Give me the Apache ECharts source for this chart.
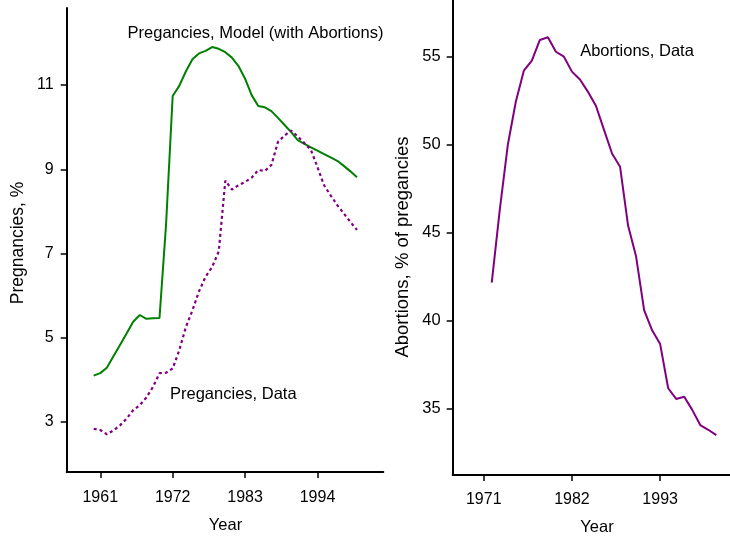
<!DOCTYPE html>
<html>
<head>
<meta charset="utf-8">
<script src="https://cdn.jsdelivr.net/npm/echarts@6/dist/echarts.min.js"></script>
<style>html,body{margin:0;padding:0;background:#fff}#c{width:730px;height:539px}</style>
</head>
<body>
<div id="c"></div>
<script>
const yearsLeft = [1960,1961,1962,1963,1964,1965,1966,1967,1968,1969,1970,1971,1972,1973,1974,1975,1976,1977,1978,1979,1980,1981,1982,1983,1984,1985,1986,1987,1988,1989,1990,1991,1992,1993,1994,1995,1996,1997,1998,1999,2000];
const pregModel = [4.10,4.16,4.29,4.56,4.83,5.10,5.38,5.54,5.45,5.46,5.47,7.70,10.74,10.98,11.32,11.61,11.75,11.81,11.90,11.86,11.78,11.65,11.45,11.15,10.76,10.50,10.47,10.38,10.22,10.05,9.88,9.69,9.60,9.52,9.44,9.36,9.28,9.20,9.08,8.95,8.81];
const pregData = [2.84,2.81,2.71,2.80,2.92,3.08,3.28,3.40,3.58,3.83,4.16,4.17,4.27,4.70,5.25,5.65,6.10,6.45,6.68,7.05,8.73,8.52,8.62,8.70,8.80,8.98,8.96,9.10,9.65,9.80,9.92,9.78,9.62,9.46,9.05,8.62,8.38,8.15,7.95,7.75,7.56];
const yearsRight = [1972,1973,1974,1975,1976,1977,1978,1979,1980,1981,1982,1983,1984,1985,1986,1987,1988,1989,1990,1991,1992,1993,1994,1995,1996,1997,1998,1999,2000];
const abortData = [42.16,46.3,49.98,52.44,54.2,54.77,55.95,56.10,55.28,55.0,54.15,53.7,53.0,52.2,50.84,49.5,48.75,45.4,43.64,40.6,39.45,38.67,36.16,35.55,35.68,34.93,34.07,33.8,33.5];
const xTicksLeft = [1961,1972,1983,1994];
const yTicksLeft = [3,5,7,9,11];
const xTicksRight = [1971,1982,1993];
const yTicksRight = [35,40,45,50,55];

const FONT = 'Liberation Sans, Arial, sans-serif';
const zip = (xs, ys) => xs.map((x, i) => [x, ys[i]]);

function baseAxis(idx, min, max, ticks, margin, fs) {
  return {
    type: 'value', gridIndex: idx, min: min, max: max,
    axisLine: {show: true, lineStyle: {color: '#000', width: 2}},
    splitLine: {show: false},
    axisTick: {show: true, length: 6, lineStyle: {color: '#000', width: 1.5}, customValues: ticks},
    axisLabel: {color: '#000', fontSize: fs, fontFamily: FONT, margin: margin, customValues: ticks,
                formatter: v => String(v)}
  };
}

const chart = echarts.init(document.getElementById('c'), null, {renderer: 'canvas'});
const txt = (s, x, y, fs, rot) => ({type: 'text', x: x, y: y, rotation: rot || 0,
  style: {text: s, fill: '#000', font: fs + 'px ' + FONT, align: 'center', verticalAlign: 'middle'}});

chart.setOption({
  animation: false,
  backgroundColor: '#fff',
  grid: [
    {left: 66.7, top: 8, width: 316.6, height: 464},
    {left: 452.7, top: 0, width: 277.3, height: 475}
  ],
  xAxis: [
    baseAxis(0, 1955.9, 2004.0, xTicksLeft, 18, 16),
    baseAxis(1, 1967.13, 2001.71, xTicksRight, 17, 16)
  ],
  yAxis: [
    baseAxis(0, 1.813, 12.828, yTicksLeft, 13, 16),
    baseAxis(1, 31.23, 58.22, yTicksRight, 12, 16.5)
  ],
  series: [
    {type: 'line', xAxisIndex: 0, yAxisIndex: 0, data: zip(yearsLeft, pregModel), symbol: 'none',
     lineStyle: {color: '#008000', width: 2}},
    {type: 'line', xAxisIndex: 0, yAxisIndex: 0, data: zip(yearsLeft, pregData), symbol: 'none',
     lineStyle: {color: '#800080', width: 2.2, type: [3, 3]}},
    {type: 'line', xAxisIndex: 1, yAxisIndex: 1, data: zip(yearsRight, abortData), symbol: 'none',
     lineStyle: {color: '#800080', width: 2}}
  ],
  graphic: [
    txt('Pregancies, Model (with Abortions)', 255.5, 33.3, 16.5),
    txt('Pregancies, Data', 233.3, 394.3, 16.5),
    txt('Abortions, Data', 637, 51.7, 16.5),
    txt('Year', 225.5, 525, 16.5),
    txt('Year', 597, 527, 16.5),
    txt('Pregnancies, %', 18, 243, 17.5, Math.PI / 2),
    txt('Abortions, % of pregancies', 403, 247, 18.5, Math.PI / 2)
  ]
});
</script>
</body>
</html>
